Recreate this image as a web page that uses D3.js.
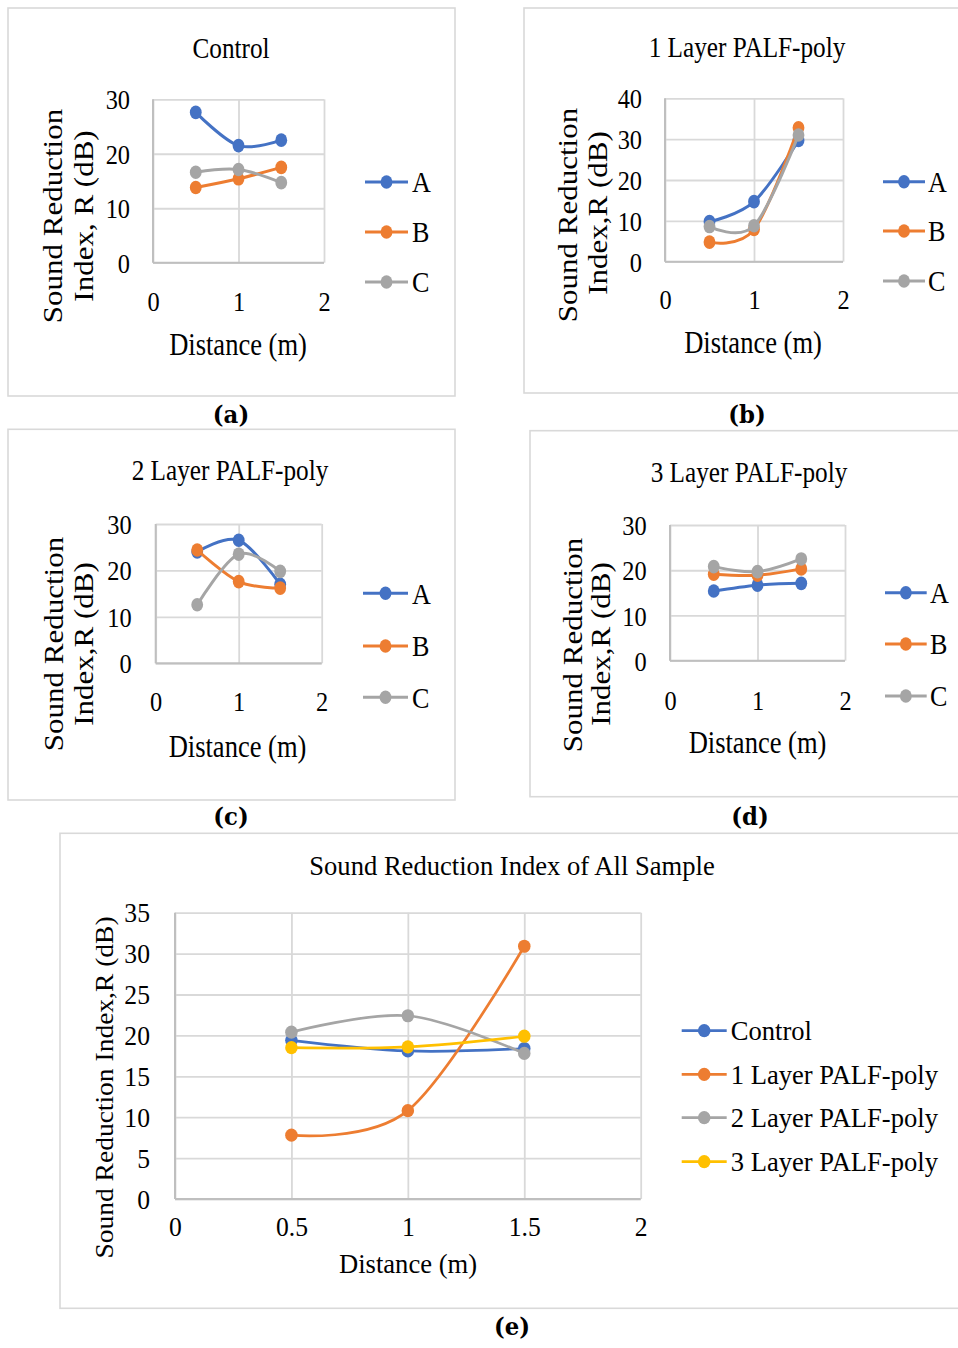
<!DOCTYPE html>
<html>
<head>
<meta charset="utf-8">
<script src="https://cdn.jsdelivr.net/npm/d3@7"></script>
<style>
  html, body { margin: 0; padding: 0; background: #ffffff; }
  svg { display: block; }
</style>
</head>
<body>
<svg id="fig" width="958" height="1348"></svg>
<script>
// Measurement distances (m)
const distances = [0.5, 1, 1.5];

// (a) Control — samples A, B, C
const controlA = [27.6, 21.5, 22.5];
const controlB = [13.8, 15.4, 17.5];
const controlC = [16.6, 17.1, 14.7];

// (b) 1 Layer PALF-poly
const layer1A = [9.8, 14.7, 29.7];
const layer1B = [4.8, 7.9, 32.8];
const layer1C = [8.6, 8.8, 31.0];

// (c) 2 Layer PALF-poly
const layer2A = [24.0, 26.5, 17.0];
const layer2B = [24.4, 17.6, 16.2];
const layer2C = [12.6, 23.5, 19.8];

// (d) 3 Layer PALF-poly
const layer3A = [15.4, 16.7, 17.1];
const layer3B = [19.1, 18.9, 20.3];
const layer3C = [20.8, 19.7, 22.5];

// (e) all samples (mean of A, B, C)
const allControl = [19.4, 18.1, 18.4];
const allLayer1 = [7.8, 10.8, 30.9];
const allLayer2 = [20.4, 22.4, 17.8];
const allLayer3 = [18.5, 18.6, 19.9];

const sampleNames = ["A", "B", "C"];
const allNames = ["Control", "1 Layer PALF-poly", "2 Layer PALF-poly", "3 Layer PALF-poly"];
const panelTitles = ["Control", "1 Layer PALF-poly", "2 Layer PALF-poly", "3 Layer PALF-poly",
                     "Sound Reduction Index of All Sample"];
const panelLetters = ["(a)", "(b)", "(c)", "(d)", "(e)"];

const yTicks30 = [0, 10, 20, 30];
const yTicks40 = [0, 10, 20, 30, 40];
const yTicks35 = [0, 5, 10, 15, 20, 25, 30, 35];
const xTicks2 = [0, 1, 2];
const xTicksHalf = [0, 0.5, 1, 1.5, 2];

const palette = ["#4472C4", "#ED7D31", "#A5A5A5", "#FFC000"];
const SERIF = "'Liberation Serif', 'Times New Roman', serif";

const svg = d3.select("#fig");

function drawPanel(cfg) {
  const g = svg.append("g");
  const SX = cfg.sx;

  // frame
  g.append("rect")
    .attr("x", cfg.frame[0]).attr("y", cfg.frame[1])
    .attr("width", cfg.frame[2]).attr("height", cfg.frame[3])
    .attr("fill", "none").attr("stroke", "#d9d9d9").attr("stroke-width", 1.6);

  // title
  g.append("text")
    .attr("transform", `translate(${cfg.title[0]},${cfg.title[1]}) scale(${SX},1)`)
    .attr("text-anchor", "middle")
    .attr("font-family", SERIF).attr("font-size", cfg.fTitle)
    .attr("fill", "#000").text(cfg.titleText);

  const [x0, x1, yt, yb] = cfg.plot;
  const x = d3.scaleLinear().domain([0, 2]).range([x0, x1]);
  const y = d3.scaleLinear().domain([0, cfg.yMax]).range([yb, yt]);

  // horizontal gridlines
  const gy = g.append("g").attr("transform", `translate(${x0},0)`)
    .call(d3.axisLeft(y).tickValues(cfg.yTicks).tickSize(-(x1 - x0)).tickFormat(""));
  gy.select(".domain").remove();
  gy.selectAll("line").attr("stroke", "#d9d9d9").attr("stroke-width", 1.8);

  // vertical gridlines
  const gx = g.append("g").attr("transform", `translate(0,${yb})`)
    .call(d3.axisBottom(x).tickValues(cfg.xTicks).tickSize(-(yb - yt)).tickFormat(""));
  gx.select(".domain").remove();
  gx.selectAll("line").attr("stroke", "#d9d9d9").attr("stroke-width", 1.8);

  // axis lines
  g.append("line").attr("x1", x0).attr("x2", x0).attr("y1", yt).attr("y2", yb)
    .attr("stroke", "#bfbfbf").attr("stroke-width", 2);
  g.append("line").attr("x1", x0).attr("x2", x1).attr("y1", yb).attr("y2", yb)
    .attr("stroke", "#bfbfbf").attr("stroke-width", 2);

  // y tick labels
  const ya = g.append("g").attr("transform", `translate(${x0},0)`)
    .call(d3.axisLeft(y).tickValues(cfg.yTicks).tickSize(0).tickFormat(d => String(d)));
  ya.select(".domain").remove();
  ya.selectAll("text")
    .attr("x", 0).attr("dy", "0.34em")
    .attr("transform", `translate(${-cfg.yTickOff},0) scale(${SX},1)`)
    .attr("text-anchor", "end")
    .attr("font-family", SERIF).attr("font-size", cfg.fTick).attr("fill", "#000");

  // x tick labels
  const xa = g.append("g").attr("transform", `translate(0,${yb})`)
    .call(d3.axisBottom(x).tickValues(cfg.xTicks).tickSize(0).tickFormat(d => String(d)));
  xa.select(".domain").remove();
  xa.selectAll("text")
    .attr("y", 0).attr("dy", "0.34em")
    .attr("transform", `translate(0,${cfg.xTickOff}) scale(${SX},1)`)
    .attr("text-anchor", "middle")
    .attr("font-family", SERIF).attr("font-size", cfg.fTick).attr("fill", "#000");

  // axis titles
  g.append("text")
    .attr("transform", `translate(${cfg.xTitle[0]},${cfg.xTitle[1]}) scale(${SX},1)`)
    .attr("text-anchor", "middle")
    .attr("font-family", SERIF).attr("font-size", cfg.fAxis).attr("fill", "#000")
    .text("Distance (m)");

  cfg.yTitle.forEach(t => {
    g.append("text")
      .attr("transform", `translate(${t.x},${t.y}) scale(${SX},1) rotate(-90)`)
      .attr("text-anchor", "middle")
      .attr("font-family", SERIF).attr("font-size", cfg.fYAxis).attr("fill", "#000")
      .text(t.text);
  });

  // series: smoothed lines with round markers
  const line = d3.line()
    .x(d => x(d[0])).y(d => y(d[1]))
    .curve(d3.curveCatmullRom.alpha(0));

  cfg.series.forEach((s, i) => {
    const pts = distances.map((d, k) => [d, s[k]]);
    const sg = g.append("g");
    sg.append("path").attr("d", line(pts))
      .attr("fill", "none").attr("stroke", palette[i])
      .attr("stroke-width", cfg.lw).attr("stroke-linecap", "round");
    sg.selectAll("ellipse").data(pts).join("ellipse")
      .attr("cx", d => x(d[0])).attr("cy", d => y(d[1]))
      .attr("rx", cfg.r * SX).attr("ry", cfg.r)
      .attr("fill", palette[i]);
  });

  // legend
  cfg.names.forEach((name, i) => {
    const ry = cfg.legend.rows[i];
    const lg = g.append("g");
    lg.append("line")
      .attr("x1", cfg.legend.lx0).attr("x2", cfg.legend.lx1)
      .attr("y1", ry).attr("y2", ry)
      .attr("stroke", palette[i]).attr("stroke-width", cfg.lw);
    lg.append("ellipse")
      .attr("cx", (cfg.legend.lx0 + cfg.legend.lx1) / 2).attr("cy", ry)
      .attr("rx", cfg.r * SX).attr("ry", cfg.r).attr("fill", palette[i]);
    lg.append("text")
      .attr("transform", `translate(${cfg.legend.tx},${ry}) scale(${SX},1)`)
      .attr("dy", "0.34em")
      .attr("font-family", SERIF).attr("font-size", cfg.fLegend).attr("fill", "#000")
      .text(name);
  });

  // panel letter
  svg.append("text")
    .attr("transform", `translate(${cfg.letter[0]},${cfg.letter[1]}) scale(0.95,1)`)
    .attr("text-anchor", "middle")
    .attr("font-family", "'DejaVu Serif', serif").attr("font-weight", "bold")
    .attr("font-size", 24).attr("fill", "#000")
    .text(cfg.letterText);
}

const small = { sx: 0.87, fTitle: 29, fTick: 28, fAxis: 30.5, fYAxis: 31, fLegend: 30, lw: 3, r: 6.8,
                xTicks: xTicks2, names: sampleNames };

drawPanel(Object.assign({}, small, {
  frame: [8, 8, 447, 388], title: [231, 58], titleText: panelTitles[0],
  plot: [153, 324, 99.3, 262.7], yMax: 30, yTicks: yTicks30,
  yTickOff: 23, xTickOff: 39, xTitle: [238, 355],
  yTitle: [{ text: "Sound Reduction", x: 62, y: 216 }, { text: "Index, R (dB)", x: 92.5, y: 216 }],
  series: [controlA, controlB, controlC],
  legend: { lx0: 365, lx1: 408, tx: 412, rows: [182, 232, 282] },
  letter: [231, 423], letterText: panelLetters[0]
}));

drawPanel(Object.assign({}, small, {
  frame: [524, 8, 445, 385], title: [747, 57], titleText: panelTitles[1],
  plot: [665, 843, 98.3, 261.7], yMax: 40, yTicks: yTicks40,
  yTickOff: 23, xTickOff: 38, xTitle: [753, 353],
  yTitle: [{ text: "Sound Reduction", x: 577, y: 215 }, { text: "Index,R (dB)", x: 607, y: 213 }],
  series: [layer1A, layer1B, layer1C],
  legend: { lx0: 883, lx1: 925, tx: 928, rows: [181.7, 231, 281] },
  letter: [747, 423], letterText: panelLetters[1]
}));

drawPanel(Object.assign({}, small, {
  frame: [8, 429.3, 447, 370.7], title: [230, 480], titleText: panelTitles[2],
  plot: [155.7, 321.7, 524, 663.3], yMax: 30, yTicks: yTicks30,
  yTickOff: 24, xTickOff: 38.4, xTitle: [237.5, 756.7],
  yTitle: [{ text: "Sound Reduction", x: 63, y: 644 }, { text: "Index,R (dB)", x: 92.5, y: 644 }],
  series: [layer2A, layer2B, layer2C],
  legend: { lx0: 363, lx1: 408, tx: 412, rows: [593.3, 646, 697.3] },
  letter: [231, 825], letterText: panelLetters[2]
}));

drawPanel(Object.assign({}, small, {
  frame: [530, 430.7, 440, 366], title: [749, 481.7], titleText: panelTitles[3],
  plot: [670, 845, 525, 660.7], yMax: 30, yTicks: yTicks30,
  yTickOff: 23.3, xTickOff: 39.3, xTitle: [757.5, 753.3],
  yTitle: [{ text: "Sound Reduction", x: 581.5, y: 645 }, { text: "Index,R (dB)", x: 610, y: 644 }],
  series: [layer3A, layer3B, layer3C],
  legend: { lx0: 885, lx1: 926.7, tx: 930, rows: [592.7, 644, 696] },
  letter: [750, 825], letterText: panelLetters[3]
}));

drawPanel({
  sx: 0.95, fTitle: 28, fTick: 27, fAxis: 28, fYAxis: 27.5, fLegend: 28, lw: 2.7, r: 6.6,
  xTicks: xTicksHalf, names: allNames,
  frame: [60, 833.3, 910, 475], title: [512, 875], titleText: panelTitles[4],
  plot: [175, 640.7, 912.7, 1199], yMax: 35, yTicks: yTicks35,
  yTickOff: 25, xTickOff: 28, xTitle: [408, 1273],
  yTitle: [{ text: "Sound Reduction Index,R (dB)", x: 113, y: 1087.5 }],
  series: [allControl, allLayer1, allLayer2, allLayer3],
  legend: { lx0: 681.7, lx1: 726.7, tx: 730.7, rows: [1030.7, 1074.3, 1117.7, 1161.7] },
  letter: [512, 1335], letterText: panelLetters[4]
});
</script>
</body>
</html>
